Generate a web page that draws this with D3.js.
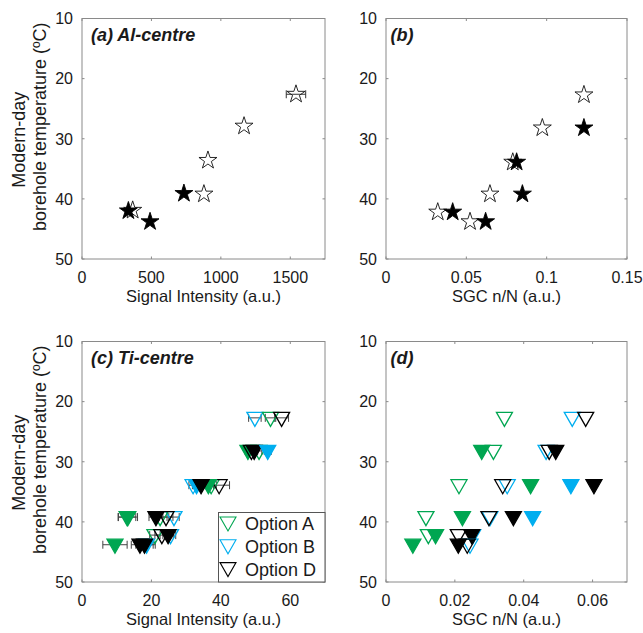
<!DOCTYPE html>
<html>
<head>
<meta charset="utf-8">
<script src="https://cdn.jsdelivr.net/npm/d3@7"></script>
<style>
  body { margin: 0; background: #fff; }
  text { font-family: Arial, "Liberation Sans", sans-serif; fill: #1a1a1a; }
</style>
</head>
<body>
<script>
// borehole temperatures (y) shared by all panels
var yTicks = [10, 20, 30, 40, 50];

// (a) Al-centre, signal intensity
var alIntOpen = [[1541, 22.6, 70], [1167, 27.9, 0], [907, 33.6, 0], [878, 39.2, 0], [365, 41.9, 0]];
var alIntFilled = [[734, 39.1], [334, 42.0], [490, 43.8]];

// (b) Al-centre, SGC n/N
var alSgcOpen = [[0.1232, 22.7], [0.0973, 28.2], [0.0789, 33.9], [0.0647, 39.2], [0.0322, 42.2], [0.0523, 43.8]];
var alSgcFilled = [[0.1232, 28.2], [0.0813, 33.9], [0.0849, 39.2], [0.0415, 42.2], [0.0620, 43.8]];

// (c) Ti-centre, signal intensity: option, filled, x, x error, T
var tiInt = [
  ["B", 0, 49.8, 1.8, 22.7], ["A", 0, 54.3, 1.5, 22.7], ["D", 0, 57.5, 2.0, 22.7],
  ["A", 1, 47.8, 0.8, 28.2], ["D", 0, 48.8, 0.8, 28.2], ["A", 0, 51.0, 0.8, 28.2],
  ["D", 1, 49.6, 1.0, 28.2], ["B", 1, 53.5, 1.0, 28.2],
  ["B", 0, 32.0, 1.2, 33.9], ["A", 0, 37.2, 1.5, 33.9], ["D", 0, 39.5, 3.0, 33.9],
  ["B", 1, 33.0, 1.2, 33.9], ["A", 1, 36.4, 1.5, 33.9], ["D", 1, 34.3, 1.5, 33.9],
  ["A", 0, 13.0, 2.5, 39.2], ["A", 1, 13.2, 2.8, 39.2], ["B", 0, 26.5, 1.5, 39.2],
  ["A", 0, 22.5, 2.0, 39.2], ["D", 0, 24.2, 2.0, 39.2], ["D", 1, 21.3, 2.0, 39.2],
  ["A", 0, 21.0, 1.5, 42.2], ["B", 0, 25.5, 1.5, 42.2], ["D", 0, 23.0, 2.0, 42.2],
  ["D", 1, 24.8, 1.5, 42.2],
  ["A", 1, 9.5, 3.5, 43.8], ["B", 1, 18.6, 2.5, 43.8], ["D", 1, 16.7, 2.5, 43.8],
  ["D", 1, 18.0, 2.5, 43.8]
];

// (d) Ti-centre, SGC n/N: option, filled, x, T
var tiSgc = [
  ["A", 0, 0.0344, 22.7], ["B", 0, 0.0541, 22.7], ["D", 0, 0.0580, 22.7],
  ["A", 1, 0.0278, 28.2], ["A", 0, 0.0312, 28.2], ["B", 0, 0.0465, 28.2],
  ["D", 0, 0.0474, 28.2], ["D", 1, 0.0493, 28.2],
  ["A", 0, 0.0212, 33.9], ["B", 0, 0.0352, 33.9], ["D", 0, 0.0339, 33.9],
  ["A", 1, 0.0420, 33.9], ["B", 1, 0.0537, 33.9], ["D", 1, 0.0604, 33.9],
  ["A", 0, 0.0116, 39.2], ["A", 1, 0.0222, 39.2], ["B", 0, 0.0302, 39.2],
  ["D", 0, 0.0299, 39.2], ["D", 1, 0.0370, 39.2], ["B", 1, 0.0426, 39.2],
  ["A", 0, 0.0123, 42.2], ["A", 1, 0.0144, 42.2], ["B", 0, 0.0252, 42.2],
  ["D", 0, 0.0210, 42.2], ["D", 1, 0.0249, 42.2],
  ["A", 1, 0.0078, 43.8], ["B", 0, 0.0244, 43.8], ["D", 1, 0.0210, 43.8],
  ["D", 0, 0.0236, 43.8]
];

var legendNames = ["Option A", "Option B", "Option D"];
var optColor = { A: "#00a651", B: "#00aeef", D: "#000000" };

var W = 643, H = 633;
var svg = d3.select("body").append("svg").attr("width", W).attr("height", H);

var panels = [
  { id: "a", title: "(a) Al-centre", dx: 9, xd: [0, 1750], xt: [0, 500, 1000, 1500], xr: [82, 325], yr: [18.5, 259], xlab: "Signal Intensity (a.u.)", ylab: true },
  { id: "b", title: "(b)", dx: 4.5, xd: [0, 0.15], xt: [0, 0.05, 0.1, 0.15], xr: [386, 627], yr: [18.5, 259], xlab: "SGC n/N (a.u.)" },
  { id: "c", title: "(c) Ti-centre", dx: 9, xd: [0, 70], xt: [0, 20, 40, 60], xr: [82, 325], yr: [341.5, 582], xlab: "Signal Intensity (a.u.)", ylab: true },
  { id: "d", title: "(d)", dx: 4.5, xd: [0, 0.07], xt: [0, 0.02, 0.04, 0.06], xr: [386, 627], yr: [341.5, 582], xlab: "SGC n/N (a.u.)" }
];

var star = d3.symbol().type(d3.symbolStar).size(100);
// MATLAB-like 'v' marker, data point sits a bit above the bbox centre
var tri = "M-8,-5.5L8,-5.5L0,8.5Z";

panels.forEach(function (p) {
  p.x = d3.scaleLinear().domain(p.xd).range(p.xr);
  p.y = d3.scaleLinear().domain([10, 50]).range(p.yr);
  var g = svg.append("g");
  var x0 = p.xr[0], x1 = p.xr[1], y0 = p.yr[0], y1 = p.yr[1];

  // frame + inward ticks on all sides
  g.append("rect").attr("x", x0).attr("y", y0).attr("width", x1 - x0).attr("height", y1 - y0)
    .attr("fill", "none").attr("stroke", "#8a8a8a").attr("stroke-width", 1);
  p.xt.forEach(function (t) {
    var xx = p.x(t);
    g.append("line").attr("x1", xx).attr("x2", xx).attr("y1", y1).attr("y2", y1 - 2.5).attr("stroke", "#8a8a8a");
    g.append("line").attr("x1", xx).attr("x2", xx).attr("y1", y0).attr("y2", y0 + 2.5).attr("stroke", "#8a8a8a");
    g.append("text").attr("x", xx).attr("y", y1 + 23.5).attr("text-anchor", "middle")
      .attr("font-size", 16).text(String(t));
  });
  yTicks.forEach(function (t) {
    var yy = p.y(t);
    g.append("line").attr("x1", x0).attr("x2", x0 + 2.5).attr("y1", yy).attr("y2", yy).attr("stroke", "#8a8a8a");
    g.append("line").attr("x1", x1).attr("x2", x1 - 2.5).attr("y1", yy).attr("y2", yy).attr("stroke", "#8a8a8a");
    g.append("text").attr("x", x0 - 9).attr("y", yy).attr("dy", "0.36em").attr("text-anchor", "end")
      .attr("font-size", 16).text(t);
  });

  g.append("text").attr("x", (x0 + x1) / 2).attr("y", y1 + 43).attr("text-anchor", "middle")
    .attr("font-size", 16.5).text(p.xlab);
  g.append("text").attr("x", x0 + p.dx).attr("y", y0 + 22).attr("font-size", 18)
    .attr("font-weight", "bold").attr("font-style", "italic").text(p.title);

  if (p.ylab) {
    var cy = (y0 + y1) / 2;
    g.append("text").attr("transform", "translate(25," + (cy + 1) + ") rotate(-90)")
      .attr("text-anchor", "middle").attr("font-size", 18).text("Modern-day");
    g.append("text").attr("transform", "translate(46," + (cy - 12) + ") rotate(-90)")
      .attr("text-anchor", "middle").attr("font-size", 18).text("borehole temperature (ºC)");
  }
});

// error bar helper
function xErr(g, p, x, e, t, col) {
  if (!e) return;
  var a = p.x(x - e), b = p.x(x + e), yy = p.y(t);
  g.append("line").attr("x1", a).attr("x2", b).attr("y1", yy).attr("y2", yy).attr("stroke", col).attr("stroke-width", 1);
  [a, b].forEach(function (v) {
    g.append("line").attr("x1", v).attr("x2", v).attr("y1", yy - 4).attr("y2", yy + 4).attr("stroke", col).attr("stroke-width", 1);
  });
}

// (a)
var pa = panels[0], ga = svg.append("g");
alIntOpen.forEach(function (d) { xErr(ga, pa, d[0], d[2], d[1], "#333"); });
ga.selectAll(".o").data(alIntOpen).enter().append("path")
  .attr("d", star).attr("transform", function (d) { return "translate(" + pa.x(d[0]) + "," + pa.y(d[1]) + ")"; })
  .attr("fill", "none").attr("stroke", "#111").attr("stroke-width", 0.9);
ga.selectAll(".f").data(alIntFilled).enter().append("path")
  .attr("d", star).attr("transform", function (d) { return "translate(" + pa.x(d[0]) + "," + pa.y(d[1]) + ")"; })
  .attr("fill", "#000").attr("stroke", "#000").attr("stroke-width", 0.9);

// (b)
var pb = panels[1], gb = svg.append("g");
gb.selectAll(".o").data(alSgcOpen).enter().append("path")
  .attr("d", star).attr("transform", function (d) { return "translate(" + pb.x(d[0]) + "," + pb.y(d[1]) + ")"; })
  .attr("fill", "none").attr("stroke", "#111").attr("stroke-width", 0.9);
gb.selectAll(".f").data(alSgcFilled).enter().append("path")
  .attr("d", star).attr("transform", function (d) { return "translate(" + pb.x(d[0]) + "," + pb.y(d[1]) + ")"; })
  .attr("fill", "#000").attr("stroke", "#000").attr("stroke-width", 0.9);

// (c)
var pc = panels[2], gc = svg.append("g");
tiInt.forEach(function (d) { xErr(gc, pc, d[2], d[3], d[4], "#444"); });
gc.selectAll(".t").data(tiInt).enter().append("path")
  .attr("d", tri).attr("transform", function (d) { return "translate(" + pc.x(d[2]) + "," + pc.y(d[4]) + ")"; })
  .attr("fill", function (d) { return d[1] ? optColor[d[0]] : "none"; })
  .attr("stroke", function (d) { return optColor[d[0]]; }).attr("stroke-width", 1.3);

// (d)
var pd = panels[3], gd = svg.append("g");
gd.selectAll(".t").data(tiSgc).enter().append("path")
  .attr("d", tri).attr("transform", function (d) { return "translate(" + pd.x(d[2]) + "," + pd.y(d[3]) + ")"; })
  .attr("fill", function (d) { return d[1] ? optColor[d[0]] : "none"; })
  .attr("stroke", function (d) { return optColor[d[0]]; }).attr("stroke-width", 1.3);

// legend in (c)
var lg = svg.append("g");
lg.append("rect").attr("x", 218.5).attr("y", 512.5).attr("width", 106.5).attr("height", 69.5)
  .attr("fill", "#fff").attr("stroke", "#555").attr("stroke-width", 1);
legendNames.forEach(function (n, i) {
  var yy = 523.5 + i * 22.8, k = ["A", "B", "D"][i];
  lg.append("path").attr("d", tri).attr("transform", "translate(228," + (yy - 1) + ")")
    .attr("fill", "none").attr("stroke", optColor[k]).attr("stroke-width", 1.1);
  lg.append("text").attr("x", 245).attr("y", yy).attr("dy", "0.36em").attr("font-size", 18).text(n);
});
</script>
</body>
</html>
